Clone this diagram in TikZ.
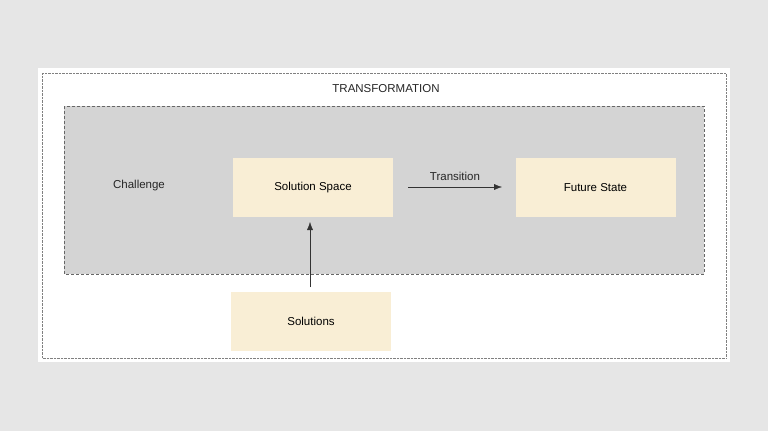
\documentclass[tikz,border=0pt]{standalone}
\usepackage{fontspec}
\setmainfont{Liberation Sans}
\usetikzlibrary{arrows.meta}
\definecolor{bg}{HTML}{E6E6E6}
\definecolor{inner}{HTML}{D4D4D4}
\definecolor{boxc}{HTML}{F9EED5}
\tikzset{
 sbox/.style={fill=boxc,draw=none,minimum width=160pt,minimum height=59pt,font=\fontsize{11.5}{13}\selectfont},
 lbl/.style={font=\fontsize{11.5}{13}\selectfont,text=black!85}
}
\begin{document}
\begin{tikzpicture}[x=1pt,y=-1pt]
\fill[bg] (0,0) rectangle (768,431);
\useasboundingbox (0,0) rectangle (768,431);
\fill[white] (38,68) rectangle (730,362);
\draw[gray,densely dotted] (42,73) rectangle (726,358);
\fill[inner] (64,106) rectangle (704,274);
\draw[gray!80!black,densely dashed] (64,106) rectangle (704,274);
\node[lbl] (title) at (386,89) {TRANSFORMATION};
\node[lbl] (ch) at (139,186) {Challenge};
\node[sbox] (ss) at (313,187.5) {Solution Space};
\node[sbox] (fs) at (595.5,187.5) {Future State};
\node[sbox] (so) at (311,321.5) {Solutions};
\coordinate (a1) at (408,187);
\coordinate (a2) at (502,187);
\draw[-{Latex[length=8pt,width=6pt]},black!80] (a1) -- (a2) node[midway,above=3pt,lbl] {Transition};
\coordinate (b1) at (310,287);
\coordinate (b2) at (310,222);
\draw[-{Latex[length=8pt,width=6pt]},black!80] (b1) -- (b2);
\end{tikzpicture}
\end{document}
